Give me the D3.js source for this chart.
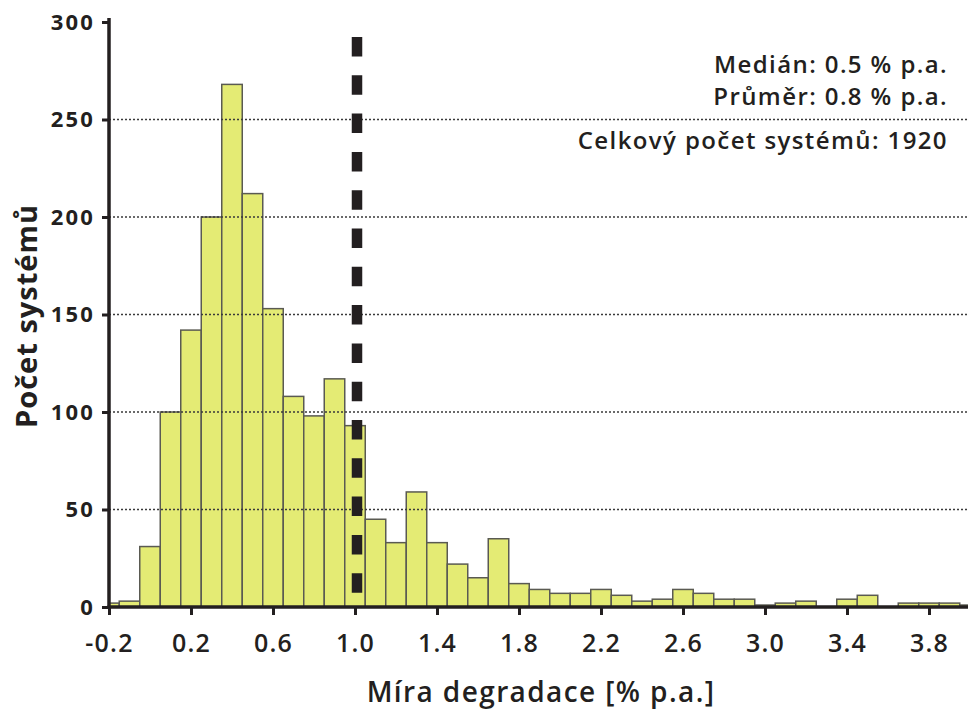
<!DOCTYPE html>
<html>
<head>
<meta charset="utf-8">
<script src="https://cdn.jsdelivr.net/npm/d3@7"></script>
<style>
  body { margin: 0; background: #fff; }
  .num { font-family: "Open Sans", sans-serif; font-weight: 600; fill: #231f20; }
</style>
</head>
<body>
<div id="content"></div>
<script>
// bin centres (% p.a.) and number of systems in each bin
var binCenters = [-0.2, -0.1, 0.0, 0.1, 0.2, 0.3, 0.4, 0.5, 0.6, 0.7, 0.8, 0.9, 1.0,
    1.1, 1.2, 1.3, 1.4, 1.5, 1.6, 1.7, 1.8, 1.9, 2.0, 2.1, 2.2, 2.3, 2.4, 2.5,
    2.6, 2.7, 2.8, 2.9, 3.0, 3.1, 3.2, 3.3, 3.4, 3.5, 3.6, 3.7, 3.8, 3.9, 4.0];
var counts = [2, 3, 31, 100, 142, 200, 268, 212, 153, 108, 98, 117, 93,
    45, 33, 59, 33, 22, 15, 35, 12, 9, 7, 7, 9, 6, 3, 4,
    9, 7, 4, 4, 1, 2, 3, 0, 4, 6, 0, 2, 2, 2, 1];
var binWidth = 0.1;
var xTicks = [-0.2, 0.2, 0.6, 1.0, 1.4, 1.8, 2.2, 2.6, 3.0, 3.4, 3.8];
var yTicks = [0, 50, 100, 150, 200, 250, 300];
var gridValues = [50, 100, 150, 200, 250];
var thresholdX = 1.0;
var notes = ['Medián: 0.5 % p.a.', 'Průměr: 0.8 % p.a.', 'Celkový počet systémů: 1920'];

var W = 968, H = 711;
var svg = d3.select('#content').append('svg')
    .attr('width', W)
    .attr('height', H);

var x = d3.scaleLinear().domain([-0.2, 4.0]).range([109, 970]);
var y = d3.scaleLinear().domain([0, 300]).range([607, 22]);

svg.append('clipPath').attr('id', 'plot')
    .append('rect').attr('x', x(-0.2)).attr('y', 0).attr('width', W - x(-0.2)).attr('height', H);

// bars
svg.append('g').attr('clip-path', 'url(#plot)')
    .selectAll('rect').data(binCenters).enter().append('rect')
    .attr('x', function(d) { return x(d - binWidth / 2); })
    .attr('width', function() { return x(binWidth) - x(0); })
    .attr('y', function(d, i) { return y(counts[i]); })
    .attr('height', function(d, i) { return y(0) - y(counts[i]); })
    .attr('fill', '#e4eb74')
    .attr('stroke', '#5a5a52')
    .attr('stroke-width', 1.5)
    .style('display', function(d, i) { return counts[i] > 0 ? null : 'none'; });

// dotted grid lines, drawn over the bars
svg.append('g').selectAll('line').data(gridValues).enter().append('line')
    .attr('x1', x(-0.2)).attr('x2', W)
    .attr('y1', function(d) { return y(d); })
    .attr('y2', function(d) { return y(d); })
    .attr('stroke', '#3a3a3a')
    .attr('stroke-width', 1.5)
    .attr('stroke-dasharray', '2,2');

// y axis
var yAxis = svg.append('g').attr('transform', 'translate(' + x(-0.2) + ',0)')
    .call(d3.axisLeft(y).tickValues(yTicks).tickSize(7).tickPadding(7));
yAxis.select('.domain').attr('stroke', '#231f20').attr('stroke-width', 3.5)
    .attr('d', 'M0,' + (y(300) - 4) + 'V' + y(0));
yAxis.selectAll('.tick line').attr('stroke', '#231f20').attr('stroke-width', 3);
yAxis.selectAll('.tick text').attr('class', 'num')
    .style('font-size', '22px').style('font-weight', 700).style('letter-spacing', '2.2px');

// x axis
var xAxis = svg.append('g').attr('transform', 'translate(0,' + y(0) + ')')
    .call(d3.axisBottom(x).tickValues(xTicks).tickSize(8)
        .tickFormat(d3.format('.1f')));
xAxis.select('.domain').attr('stroke', '#231f20').attr('stroke-width', 3.5)
    .attr('d', 'M' + (x(-0.2) - 1.5) + ',0H' + W);
xAxis.selectAll('.tick line').attr('stroke', '#231f20').attr('stroke-width', 3);
xAxis.selectAll('.tick text').attr('class', 'num')
    .attr('y', 45).attr('dy', 0)
    .style('font-size', '25px')
    .style('letter-spacing', '1.2px')
    .text(function(d) { return d3.format('.1f')(d).replace('−', '-'); });

// dashed threshold line
svg.append('line')
    .attr('x1', x(thresholdX) + 2).attr('x2', x(thresholdX) + 2)
    .attr('y1', 37).attr('y2', 594)
    .attr('stroke', '#231f20')
    .attr('stroke-width', 10.5)
    .attr('stroke-dasharray', '19.5,18.8');

// annotations
svg.append('g').selectAll('text').data(notes).enter().append('text')
    .attr('class', 'num')
    .attr('x', 948)
    .attr('y', function(d, i) { return [73, 105, 149][i]; })
    .attr('text-anchor', 'end')
    .style('font-size', '24px')
    .style('letter-spacing', '1.4px')
    .text(function(d) { return d; });

// axis titles
svg.append('text').attr('class', 'num')
    .attr('x', 541).attr('y', 702)
    .attr('text-anchor', 'middle')
    .style('font-size', '28px')
    .style('letter-spacing', '1.4px')
    .text('Míra degradace [% p.a.]');

svg.append('text').attr('class', 'num')
    .attr('transform', 'translate(37,316) rotate(-90)')
    .attr('text-anchor', 'middle')
    .style('font-size', '29px')
    .style('font-weight', 700)
    .style('letter-spacing', '1px')
    .text('Počet systémů');
</script>
</body>
</html>
